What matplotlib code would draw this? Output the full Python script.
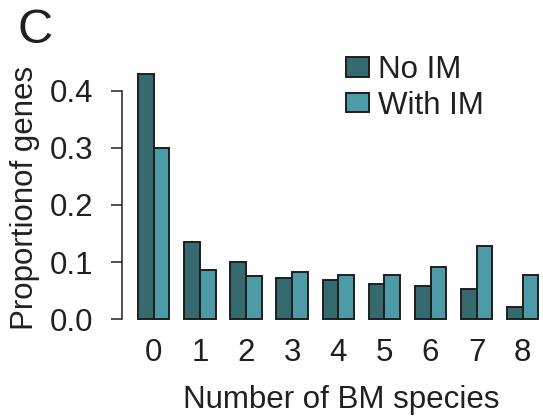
import matplotlib
matplotlib.use("Agg")
import matplotlib.pyplot as plt
from matplotlib.patches import Patch
import numpy as np

plt.rcParams['font.family'] = ['Liberation Sans', 'DejaVu Sans']

# Data
species_counts = ["0", "1", "2", "3", "4", "5", "6", "7", "8"]
no_im = [0.430, 0.135, 0.100, 0.073, 0.068, 0.061, 0.058, 0.053, 0.021]
with_im = [0.300, 0.086, 0.075, 0.083, 0.078, 0.077, 0.091, 0.128, 0.077]
y_ticks = [0.0, 0.1, 0.2, 0.3, 0.4]
y_tick_labels = ["0.0", "0.1", "0.2", "0.3", "0.4"]

dark = "#356b6e"
light = "#4c9ba6"
edge = "#1e1e1e"
ink = "#231f20"
fs = 22.5

W, H = 543, 416
fig = plt.figure(figsize=(W / 100, H / 100), dpi=100)

# axes placed in pixel units
ax_left, ax_right = 121.7, 543.0
ax_top, ax_bottom = 60.0, 319.3
ax = fig.add_axes([ax_left / W, 1 - ax_bottom / H,
                   (ax_right - ax_left) / W, (ax_bottom - ax_top) / H])

x = np.arange(len(species_counts))
w = 0.34
ax.bar(x - w / 2, no_im, w, color=dark, edgecolor=edge, linewidth=1.4,
       label="No IM", clip_on=False, zorder=3)
ax.bar(x + w / 2, with_im, w, color=light, edgecolor=edge, linewidth=1.4,
       label="With IM", clip_on=False, zorder=3)

px_per_unit = 46.125
ax.set_xlim((ax_left - 153.8) / px_per_unit, (ax_right - 153.8) / px_per_unit)
ax.set_ylim(0, (ax_bottom - ax_top) / 571.5)

for s in ["top", "right", "bottom"]:
    ax.spines[s].set_visible(False)
ax.spines["left"].set_bounds(0, 0.4)
ax.spines["left"].set_linewidth(1.1)
ax.spines["left"].set_color(ink)

ax.set_yticks(y_ticks, y_tick_labels)
ax.tick_params(axis="y", length=7.7, width=1.1, color=ink, pad=12.7,
               labelsize=fs, labelcolor=ink)
ax.set_xticks(x, species_counts)
ax.tick_params(axis="x", length=0, pad=13.7, labelsize=fs, labelcolor=ink)

ax.set_xlabel("Number of BM species", fontsize=fs, color=ink)
ax.xaxis.set_label_coords((340.8 - ax_left) / (ax_right - ax_left),
                          -(385.0 - ax_bottom) / (ax_bottom - ax_top))
ax.set_ylabel("Proportionof genes", fontsize=fs, color=ink)
ax.yaxis.set_label_coords(-(ax_left - 40.0) / (ax_right - ax_left),
                          (ax_bottom - 198.0) / (ax_bottom - ax_top))

handles = [Patch(facecolor=dark, edgecolor=edge, linewidth=1.4),
           Patch(facecolor=light, edgecolor=edge, linewidth=1.4)]
ax.legend(handles, ["No IM", "With IM"], loc="upper left",
          bbox_to_anchor=(346 / W, 1 - 55 / H), bbox_transform=fig.transFigure,
          frameon=False, fontsize=fs, borderpad=0, borderaxespad=0,
          handlelength=0.74, handleheight=0.58, handletextpad=0.27,
          labelspacing=0.18, labelcolor=ink)

fig.text(17.5 / W, 1 - 43 / H, "C", fontsize=35, color=ink,
         ha="left", va="baseline")

fig.savefig("out.png", dpi=100)
